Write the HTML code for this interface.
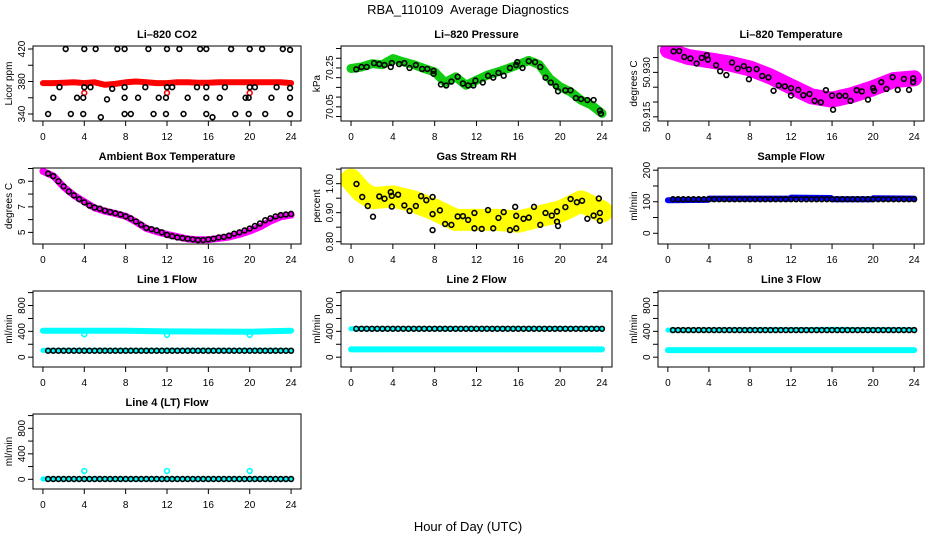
<!DOCTYPE html>
<html><head><meta charset="utf-8">
<style>
html,body{margin:0;padding:0;background:#fff;}
svg{display:block;font-family:"Liberation Sans",Arial,sans-serif;}
</style></head>
<body>
<svg id="chart" width="936" height="540" viewBox="0 0 936 540">
<text x="468" y="14" text-anchor="middle" font-size="13">RBA_110109&#160; Average Diagnostics</text>
<text x="468" y="531" text-anchor="middle" font-size="13">Hour of Day (UTC)</text>
</svg>
<script>
// ---------- data ----------
const xTicks = [0,4,8,12,16,20,24];

// CO2
const co2BandHours = [0,1,2,3,4,5,6,7,8,9,10,11,12,13,14,15,16,17,18,19,20,21,22,23,24];
const co2BandValues = [378,378,378.5,379,378,379,376,377,379,380,379,378,378,379,379,378.5,378.5,379,379,379,379,379,379,379,378];
const co2RedHours = [4,12,20];
const co2RedValues = [366,366,366];
const co2CircleHours = [2.2,4,5.1,7.2,7.9,10.2,12,13.2,15.2,15.8,18.2,20,21.2,23.2,23.9,
 1.6,4,4.6,6.7,7.9,9.9,12,12.5,14.9,15.8,17.6,20,20.5,22.6,23.9,
 1.0,3.3,3.9,7.9,9.2,11.2,11.9,14,15.8,17.1,19.6,19.9,22.1,23.9,6.2,
 0.5,2.7,3.9,7.9,8.5,10.7,11.9,13.6,15.8,18.6,19.9,21.5,23.9,5.6,16.4];
const co2CircleValues = [420,420,420,420,420,420,420,420,420,420,420,420,420,420,419,
 373,373,373,371,373,373,373,373,373,373,373,373,373,373,372,
 360,360,360,360,360,360,360,360,360,360,360,360,360,360,358,
 340,340,340,340,340,340,340,340,340,340,340,340,340,336,336];

// Pressure
const presBandHours = [0,1,2,3,4,5,6,7,8,9,10,11,12,13,14,15,16,17,18,19,20,21,22,23,24];
const presBandValues = [70.247,70.255,70.272,70.267,70.298,70.281,70.267,70.247,70.229,70.175,70.204,70.161,70.187,70.212,70.229,70.247,70.267,70.289,70.267,70.195,70.153,70.127,70.084,70.059,70.016];
const presCircleHours = [0.5,1,1.5,2.2,2.7,3.2,3.8,3.9,4.6,5.1,5.6,6.2,6.8,7.3,7.9,7.9,8.6,9.1,9.6,10.2,10.7,11.2,11.7,11.9,12.6,13.1,13.6,14.1,14.6,15.2,15.8,15.9,16.4,17,17.6,18.1,18.6,19.1,19.6,19.8,20.5,21,21.5,22,22.6,23.2,23.8,23.9];
const presCircleValues = [70.243,70.255,70.255,70.275,70.27,70.265,70.255,70.275,70.27,70.275,70.25,70.265,70.245,70.245,70.235,70.22,70.165,70.16,70.18,70.205,70.17,70.16,70.16,70.185,70.175,70.21,70.2,70.225,70.21,70.25,70.265,70.28,70.25,70.285,70.28,70.255,70.2,70.175,70.155,70.13,70.135,70.135,70.095,70.09,70.085,70.085,70.03,70.015];

// Li-820 temperature
const tempBandHours = [0,2,4,6,8,10,12,14,16,18,20,22,24];
const tempBandValues = [50.9374,50.9352,50.9341,50.9330,50.9313,50.9286,50.9252,50.9219,50.9208,50.9224,50.9247,50.9274,50.9280];
const tempCircleHours = [0.56,1.1,1.6,2.2,2.8,3.3,3.8,3.9,4.7,5.1,5.7,6.25,6.8,7.4,7.9,7.9,8.65,9.2,9.8,10.3,10.8,11.4,12,12,12.7,13.2,13.8,14.3,14.9,15.4,16,16.1,16.7,17.3,17.8,18.4,18.9,19.5,20,20.1,20.8,21.3,21.9,22.4,23,23.5,23.9,23.9];
const tempCircleValues = [50.9371,50.9372,50.9352,50.9347,50.933,50.9349,50.9358,50.9343,50.9324,50.9304,50.9291,50.9333,50.9313,50.9321,50.931,50.9277,50.9311,50.9288,50.9283,50.9238,50.9256,50.9253,50.9247,50.9222,50.9241,50.9223,50.9227,50.9204,50.9199,50.924,50.9222,50.9174,50.9221,50.9221,50.9204,50.924,50.9236,50.9208,50.9247,50.9238,50.9267,50.9244,50.9284,50.9241,50.9278,50.9241,50.928,50.9267];

// Ambient box temperature
const ambBandHours = [0,1,2,3,4,5,6,7,8,9,10,11,12,13,14,15,16,17,18,19,20,21,22,23,24];
const ambBandValues = [9.78,9.42,8.56,7.9,7.4,6.92,6.66,6.48,6.27,5.83,5.31,5.05,4.84,4.66,4.48,4.43,4.43,4.53,4.64,4.84,5.10,5.44,5.88,6.22,6.35];
const ambCircleHours = [0.5,1,1.5,2,2.5,3,3.5,4,4.5,5,5.5,6,6.5,7,7.5,8,8.5,9,9.5,10,10.5,11,11.5,12,12.5,13,13.5,14,14.5,15,15.5,16,16.5,17,17.5,18,18.5,19,19.5,20,20.5,21,21.5,22,22.5,23,23.5,24];
const ambCircleValues = [9.6,9.4,9.0,8.6,8.2,7.9,7.6,7.35,7.1,6.95,6.85,6.7,6.6,6.5,6.4,6.25,6.1,5.85,5.6,5.35,5.25,5.15,5.0,4.8,4.7,4.6,4.55,4.5,4.45,4.4,4.4,4.45,4.5,4.6,4.65,4.75,4.9,5.0,5.15,5.3,5.5,5.7,5.95,6.1,6.25,6.35,6.4,6.45];

// Gas stream RH
const rhBandHours = [0,1,2,4,6,8,10,12,14,16,18,20,22,24];
const rhBandValues = [1.014,0.973,0.950,0.956,0.939,0.910,0.875,0.875,0.875,0.869,0.887,0.904,0.939,0.904];
const rhCircleHours = [0.52,1.07,1.6,2.1,2.7,3.2,3.8,3.9,3.9,4.5,5.1,5.6,6.2,6.7,7.2,7.8,7.8,7.8,8.5,9,9.6,10.2,10.7,11.2,11.8,11.8,12.5,13.1,13.6,14.1,14.6,15.2,15.7,15.8,15.8,16.5,17,17.5,18.1,18.6,19.2,19.7,19.7,19.8,20.5,21,21.6,22.1,22.6,23.2,23.7,23.8,23.8];
const rhCircleValues = [0.999,0.954,0.923,0.886,0.956,0.948,0.971,0.958,0.921,0.962,0.925,0.906,0.923,0.957,0.943,0.895,0.954,0.840,0.908,0.861,0.858,0.887,0.888,0.875,0.899,0.846,0.844,0.909,0.846,0.882,0.902,0.840,0.920,0.889,0.846,0.879,0.883,0.920,0.858,0.899,0.890,0.904,0.869,0.854,0.919,0.947,0.936,0.941,0.879,0.890,0.949,0.899,0.872];

// Sample flow
const sfBandHours = [0,3.9,4,11.9,12,15.9,16,19.9,20,24];
const sfBandValues = [105,106,110,110,113,112,108,108,111,110];

// Line flows
const l1UpperHours = [0,8,12,20,24];
const l1UpperValues = [410,410,400,395,410];
const l1LowerHours = [0,24];
const l1LowerValues = [105,105];
const l1DipHours = [4,12,20];
const l1DipValues = [355,345,345];
const l1Black = 100;

const l2UpperHours = [0,24];
const l2UpperValues = [440,445];
const l2LowerHours = [0,24];
const l2LowerValues = [120,120];
const l2Black = 440;

const l3UpperHours = [0,16,24];
const l3UpperValues = [420,430,425];
const l3LowerHours = [0,24];
const l3LowerValues = [110,110];
const l3Black = 420;

const l4LowerHours = [0,24];
const l4LowerValues = [5,5];
const l4SpikeHours = [4,12,20];
const l4SpikeValues = [130,130,130];
const l4Black = 5;

const halfHours = [0.5,1,1.5,2,2.5,3,3.5,4,4.5,5,5.5,6,6.5,7,7.5,8,8.5,9,9.5,10,10.5,11,11.5,12,12.5,13,13.5,14,14.5,15,15.5,16,16.5,17,17.5,18,18.5,19,19.5,20,20.5,21,21.5,22,22.5,23,23.5,24];

// ---------- drawing ----------
const NS = "http://www.w3.org/2000/svg";
const svg = document.getElementById("chart");
const cols = [{l:33,r:301},{l:341,r:612},{l:658,r:924}];
const rows = [{t:46,b:121},{t:168,b:244},{t:291,b:367},{t:414,b:489}];

function mk(tag, attrs, parent){
  const e = document.createElementNS(NS, tag);
  for (const k in attrs) e.setAttribute(k, attrs[k]);
  (parent||svg).appendChild(e);
  return e;
}

function makePanel(name, col, row, title, ylab, ydom, yticks, ylabels, dec){
  const c = cols[col], r = rows[row];
  const g = mk("g", {});
  
  
  const xs = h => c.l + (h + 0.96) / 25.92 * (c.r - c.l);
  const ys = v => r.b - (v - ydom[0]) / (ydom[1] - ydom[0]) * (r.b - r.t);
  const t = mk("text", {x:(c.l+c.r)/2, y:r.t-8, "text-anchor":"middle", "font-size":"11", "font-weight":"bold"}, g);
  t.textContent = title;
  
  
  const yl = mk("text", {transform:`translate(${c.l-21},${(r.t+r.b)/2}) rotate(-90)`, "text-anchor":"middle", "font-size":"10"}, g);
  yl.textContent = ylab;
  
  
  const ya = mk("g", {}, g);
  
  
  yticks.forEach(v => {
    const y = ys(v);
    mk("line", {x1:c.l-5, x2:c.l, y1:y, y2:y, stroke:"#000", "stroke-width":"1"}, ya);
  });
  ylabels.forEach(v => {
    const y = ys(v);
    const lt = mk("text", {transform:`translate(${c.l-8},${y}) rotate(-90)`, "text-anchor":"middle", "font-size":"10"}, ya);
    lt.textContent = dec ? v.toFixed(dec) : String(v);
  });
  const xa = mk("g", {}, g);
  
  
  xTicks.forEach(h => {
    const x = xs(h);
    mk("line", {x1:x, x2:x, y1:r.b, y2:r.b+5, stroke:"#000", "stroke-width":"1"}, xa);
    const lt = mk("text", {x:x, y:r.b+19, "text-anchor":"middle", "font-size":"10"}, xa);
    lt.textContent = String(h);
  });
  const clip = mk("clipPath", {id:"clip-"+name}, g);
  mk("rect", {x:c.l, y:r.t, width:c.r-c.l, height:r.b-r.t}, clip);
  const plot = mk("g", {"clip-path":`url(#clip-${name})`}, g);
  
  
  const box = mk("rect", {x:c.l, y:r.t, width:c.r-c.l, height:r.b-r.t, fill:"none", stroke:"#000", "stroke-width":"1"}, g);
  
  
  return {xs, ys, plot, name};
}

function band(p, hours, vals, color, width, label){
  const pts = hours.map((h,i) => p.xs(h).toFixed(1) + "," + p.ys(vals[i]).toFixed(1)).join(" ");
  const e = mk("polyline", {points:pts, fill:"none", stroke:color, "stroke-width":width, "stroke-linejoin":"round", "stroke-linecap":"round"}, p.plot);
  
  
}
function circles(p, hours, vals, color, label, rad, sw){
  const g = mk("g", {}, p.plot);
  
  
  hours.forEach((h,i) => {
    mk("circle", {cx:p.xs(h), cy:p.ys(vals[i]), r:rad||2.4, fill:"none", stroke:color, "stroke-width":sw||1.6}, g);
  });
}
function levelCircles(p, level, color, label){
  circles(p, halfHours, halfHours.map(() => level), color, label);
}

let p = makePanel("co2", 0, 0, "Li\u2013820 CO2", "Licor ppm", [331.4,423.7], [340,360,380,400,420], [340,380,420]);
band(p, co2BandHours, co2BandValues, "#ff0000", 6, "co2-average-band");
circles(p, co2RedHours, co2RedValues, "#ff0000", "co2-red-points");
circles(p, co2CircleHours, co2CircleValues, "#000", "co2-sample-points");

p = makePanel("pressure", 1, 0, "Li\u2013820 Pressure", "kPa", [69.977,70.363], [70.00,70.05,70.10,70.15,70.20,70.25,70.30,70.35], [70.05,70.25], 2);
band(p, presBandHours, presBandValues, "#11cc11", 9, "pressure-average-band");
circles(p, presCircleHours, presCircleValues, "#000", "pressure-sample-points");

p = makePanel("li820-temp", 2, 0, "Li\u2013820 Temperature", "degrees C", [50.9136,50.9389], [50.915,50.920,50.925,50.930,50.935], [50.915,50.930], 3);
band(p, tempBandHours, tempBandValues, "#ff00ff", 16, "li820-temp-average-band");
circles(p, tempCircleHours, tempCircleValues, "#000", "li820-temp-sample-points");

p = makePanel("ambient", 0, 1, "Ambient Box Temperature", "degrees C", [4.09,10.04], [5,6,7,8,9,10], [5,7,9]);
band(p, ambBandHours, ambBandValues, "#ff00ff", 7, "ambient-average-band");
circles(p, ambCircleHours, ambCircleValues, "#000", "ambient-sample-points");

p = makePanel("rh", 1, 1, "Gas Stream RH", "percent", [0.792,1.054], [0.80,0.85,0.90,0.95,1.00,1.05], [0.80,0.90,1.00], 2);
band(p, rhBandHours, rhBandValues, "#ffff00", 22, "rh-average-band");
circles(p, rhCircleHours, rhCircleValues, "#000", "rh-sample-points");

p = makePanel("sample-flow", 2, 1, "Sample Flow", "ml/min", [-34,207], [0,50,100,150,200], [0,100,200]);
band(p, sfBandHours, sfBandValues, "#0000ff", 6, "sample-flow-band");
levelCircles(p, 108, "#000", "sample-flow-sample-points");

const flowDom = [-152,1025], flowTicks = [0,200,400,600,800,1000], flowLabels = [0,400,800];
p = makePanel("line1", 0, 2, "Line 1 Flow", "ml/min", flowDom, flowTicks, flowLabels);
band(p, l1UpperHours, l1UpperValues, "#00ffff", 6, "line1-high-band");
band(p, l1LowerHours, l1LowerValues, "#00ffff", 5, "line1-low-band");
circles(p, l1DipHours, l1DipValues, "#00ffff", "line1-dip-points");
levelCircles(p, l1Black, "#000", "line1-sample-points");

p = makePanel("line2", 1, 2, "Line 2 Flow", "ml/min", flowDom, flowTicks, flowLabels);
band(p, l2UpperHours, l2UpperValues, "#00ffff", 5, "line2-high-band");
band(p, l2LowerHours, l2LowerValues, "#00ffff", 6, "line2-low-band");
levelCircles(p, l2Black, "#000", "line2-sample-points");

p = makePanel("line3", 2, 2, "Line 3 Flow", "ml/min", flowDom, flowTicks, flowLabels);
band(p, l3UpperHours, l3UpperValues, "#00ffff", 5, "line3-high-band");
band(p, l3LowerHours, l3LowerValues, "#00ffff", 6, "line3-low-band");
levelCircles(p, l3Black, "#000", "line3-sample-points");

p = makePanel("line4", 0, 3, "Line 4 (LT) Flow", "ml/min", flowDom, flowTicks, flowLabels);
band(p, l4LowerHours, l4LowerValues, "#00ffff", 5, "line4-band");
circles(p, l4SpikeHours, l4SpikeValues, "#00ffff", "line4-spike-points");
levelCircles(p, l4Black, "#000", "line4-sample-points");
</script>
</body></html>
